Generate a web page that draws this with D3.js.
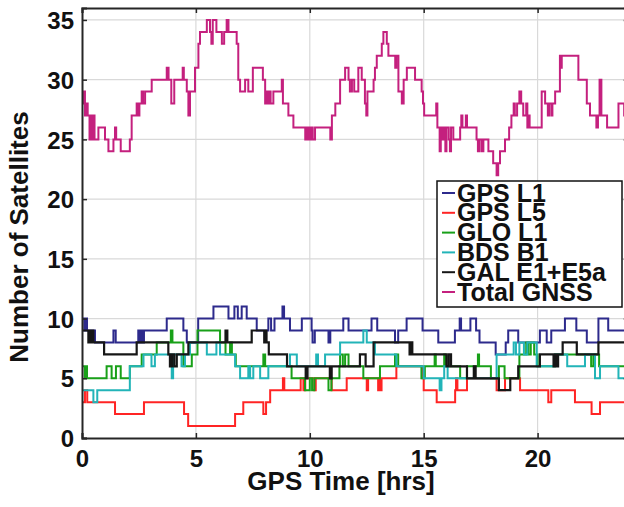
<!DOCTYPE html>
<html>
<head>
<meta charset="utf-8">
<script src="https://cdn.jsdelivr.net/npm/d3@7"></script>
<style>
  body { margin: 0; background: #fff; }
  svg text { font-family: "Liberation Sans", Arial, sans-serif; font-weight: bold; fill: #111; }
</style>
</head>
<body>
<div class="chart"></div>
<script>
// step series: [time (hrs), satellites] - value holds until the next change
const gpsL1 = [[0,10],[0.1,9],[0.15,10],[0.22,9],[0.57,8],[1.38,9],[1.48,8],[2.47,9],[2.52,8],[2.6,9],[2.65,8],[2.72,9],[3.72,10],[4.45,9],[4.6,8],[5.1,10],[5.77,11],[6.43,10],[6.69,11],[6.84,10],[7.01,11],[7.23,10],[7.67,9],[8.18,10],[8.3,9],[8.45,10],[8.8,11],[8.87,10],[9.13,9],[9.65,10],[10.08,9],[10.12,8],[10.22,9],[10.82,8],[10.9,9],[11.47,10],[11.7,9],[12.71,10],[12.96,9],[13.74,8],[13.88,9],[14.25,10],[14.95,9],[15.64,8],[16.37,9],[16.58,10],[16.64,9],[17.05,10],[17.3,9],[17.45,8],[18.16,7],[18.6,8],[18.71,9],[19.15,8],[20.1,9],[20.4,8],[20.6,9],[21.2,10],[21.7,9],[22.16,8],[22.67,10],[23.1,9]];

const gpsL5 = [[0,3],[0.13,4],[0.23,3],[1.45,2],[2.72,3],[4.48,2],[4.66,1],[6.72,2],[7.08,3],[7.96,2],[8.08,3],[8.26,4],[8.82,5],[8.88,4],[9.6,5],[9.72,4],[9.8,5],[10.2,4],[10.26,5],[10.96,4],[11.62,5],[12.5,4],[12.56,5],[13.0,4],[13.05,5],[13.1,4],[13.15,5],[13.8,6],[14.95,5],[15.0,4],[15.57,3],[16.38,4],[16.42,5],[16.48,4],[16.9,5],[18.2,4],[18.57,5],[19.23,4],[20.47,3],[20.6,4],[21.64,3],[22.37,2],[22.74,3]];

const gloL1 = [[0,6],[0.12,5],[0.18,6],[0.22,5],[1.08,6],[1.3,5],[1.49,6],[1.7,5],[2.1,6],[2.62,7],[3.28,8],[3.9,9],[3.97,8],[4.45,6],[4.82,7],[5.07,9],[6.06,8],[6.3,7],[6.5,8],[6.58,7],[6.75,6],[7.96,7],[8.04,6],[9.2,5],[9.79,4],[10.0,5],[10.1,4],[10.2,5],[10.82,4],[10.95,5],[11.3,6],[11.33,7],[11.45,6],[11.55,7],[11.7,6],[12.35,5],[13.08,6],[13.74,7],[13.88,6],[14.9,5],[15.05,6],[15.48,7],[15.53,6],[15.9,7],[15.95,6],[16.6,5],[16.9,6],[17.38,7],[17.43,6],[17.95,5],[18.3,6],[18.55,5],[19.2,7],[19.5,8],[19.6,7],[19.7,8],[19.85,7],[20.0,6],[20.76,7],[22.35,6],[22.45,7],[22.7,6]];

const bdsB1 = [[0,4],[0.5,3],[0.67,4],[2.1,6],[2.7,7],[3.05,6],[3.2,7],[3.94,5],[4.0,7],[4.37,6],[4.52,7],[4.74,8],[5.48,7],[5.9,8],[6.06,7],[6.72,6],[6.94,5],[7.3,6],[7.38,5],[7.52,6],[7.82,5],[8.18,6],[9.13,7],[9.43,6],[10.28,7],[10.36,6],[10.67,7],[11.33,8],[12.35,9],[12.5,8],[12.86,7],[13.8,6],[15.0,5],[15.7,4],[15.78,5],[15.9,6],[16.05,5],[18.2,7],[18.95,8],[19.05,7],[19.2,8],[19.4,7],[19.55,8],[19.96,6],[20.76,7],[21.3,6],[22.08,7],[22.52,5],[22.74,6],[23.55,5]];

const galE1E5a = [[0,9],[0.28,8],[0.32,9],[0.4,8],[0.45,9],[0.5,8],[0.97,7],[2.4,8],[3.79,7],[3.86,6],[3.95,7],[4.05,6],[4.16,7],[4.67,8],[6.3,9],[6.38,8],[7.45,9],[8.0,8],[8.05,9],[8.1,8],[8.2,7],[9.0,6],[9.82,5],[9.9,6],[10.88,5],[10.96,6],[12.2,7],[12.45,6],[12.8,8],[14.38,7],[14.45,8],[14.5,7],[16.0,6],[16.1,7],[16.2,6],[16.9,5],[17.2,6],[17.28,5],[18.3,4],[18.8,5],[19.15,6],[20.1,7],[20.7,6],[20.78,7],[20.85,6],[20.9,7],[21.1,8],[21.72,7],[22.67,8]];

const totalGnss = [[0,28],[0.09,29],[0.13,27],[0.2,28],[0.25,27],[0.33,25],[0.38,27],[0.43,25],[0.5,27],[0.55,25],[0.72,26],[1.01,25],[1.16,24],[1.38,25],[1.45,26],[1.5,25],[1.7,24],[2.1,25],[2.18,27],[2.4,28],[2.45,27],[2.52,28],[2.62,29],[2.68,28],[2.77,29],[3.06,30],[3.72,31],[3.8,30],[3.92,28],[4.05,30],[4.42,31],[4.47,30],[4.6,29],[4.67,27],[4.74,29],[4.96,31],[5.11,33],[5.18,34],[5.48,35],[5.62,34],[5.68,33],[5.74,35],[5.9,34],[6.14,33],[6.24,34],[6.35,35],[6.43,34],[6.79,33],[6.86,30],[6.94,29],[7.16,30],[7.3,29],[7.5,31],[7.94,30],[8.04,28],[8.1,29],[8.15,28],[8.22,29],[8.28,28],[8.4,29],[8.77,30],[8.82,28],[9.06,27],[9.28,26],[9.8,25],[9.85,26],[9.9,25],[9.95,26],[10.0,25],[10.08,26],[10.13,25],[10.23,26],[10.9,25],[10.97,27],[11.12,28],[11.33,30],[11.55,31],[11.7,30],[11.76,29],[11.85,30],[11.95,29],[12.13,31],[12.28,30],[12.42,28],[12.48,27],[12.53,29],[12.8,30],[12.86,31],[12.94,32],[13.16,33],[13.23,34],[13.38,33],[13.45,32],[13.75,31],[13.8,32],[13.89,29],[14.04,28],[14.12,30],[14.26,31],[14.62,30],[14.91,29],[14.97,28],[15.02,27],[15.55,28],[15.6,26],[15.7,24],[15.75,26],[15.82,25],[15.9,26],[15.95,24],[16.0,26],[16.1,25],[16.15,24],[16.2,26],[16.3,25],[16.6,26],[16.65,27],[16.7,26],[16.85,27],[16.9,26],[17.32,25],[17.38,24],[17.45,25],[17.55,24],[17.62,25],[17.84,24],[18.05,23],[18.2,22],[18.27,23],[18.35,24],[18.57,25],[18.75,26],[18.85,27],[18.95,28],[19.0,27],[19.1,28],[19.2,29],[19.28,28],[19.37,27],[19.5,28],[19.55,26],[19.6,27],[19.65,26],[20.18,29],[20.33,28],[20.45,27],[20.5,28],[20.6,27],[20.65,28],[20.77,29],[20.98,32],[21.02,31],[21.06,32],[21.79,30],[22.16,28],[22.3,27],[22.58,26],[22.65,27],[22.72,30],[22.8,27],[23.05,26],[23.55,28],[23.8,27]];

const seriesNames = ['GPS L1', 'GPS L5', 'GLO L1', 'BDS B1', 'GAL E1+E5a', 'Total GNSS'];
const seriesColors = ['#2d2a8c', '#ff2424', '#18a018', '#22b4b8', '#161616', '#c4207e'];
const seriesData = [gpsL1, gpsL5, gloL1, bdsB1, galE1E5a, totalGnss];

const xTicks = [0, 5, 10, 15, 20];
const yTicks = [0, 5, 10, 15, 20, 25, 30, 35];

const width = 624;
const height = 507;
const plotLeft = 82, plotTop = 8, plotBottom = 438;
const plotRight = 82 + 24 * 22.78;

const x = d3.scaleLinear().domain([0, 24]).range([plotLeft, plotRight]);
const y = d3.scaleLinear().domain([0, 36]).range([plotBottom, plotTop]);

const svg = d3.select('.chart').append('svg')
    .attr('width', width)
    .attr('height', height);

svg.append('defs').append('clipPath').attr('id', 'plot-clip')
  .append('rect')
    .attr('x', plotLeft).attr('y', plotTop)
    .attr('width', plotRight - plotLeft).attr('height', plotBottom - plotTop);

// grid
const grid = svg.append('g');
xTicks.filter(t => t > 0).forEach(t => {
  grid.append('line')
      .attr('x1', x(t)).attr('x2', x(t))
      .attr('y1', plotTop).attr('y2', plotBottom)
      .attr('stroke', '#d9d9d9').attr('stroke-width', 1.2);
});
yTicks.filter(t => t > 0).forEach(t => {
  grid.append('line')
      .attr('x1', plotLeft).attr('x2', plotRight)
      .attr('y1', y(t)).attr('y2', y(t))
      .attr('stroke', '#d9d9d9').attr('stroke-width', 1.2);
});

// series
const line = d3.line()
    .x(d => x(d[0]))
    .y(d => y(d[1]))
    .curve(d3.curveStepAfter);

const plot = svg.append('g').attr('clip-path', 'url(#plot-clip)');
seriesData.forEach((data, i) => {
  const pts = data.concat([[24, data[data.length - 1][1]]]);
  plot.append('path')
      .datum(pts)
      .attr('fill', 'none')
      .attr('stroke', seriesColors[i])
      .attr('stroke-width', i === 4 ? 2.2 : 2)
      .attr('d', line);
});

// axes frame (inward ticks, MATLAB style)
const xAxisB = d3.axisBottom(x).tickValues(xTicks).tickSize(-5).tickFormat(d => d).tickPadding(12);
const xAxisT = d3.axisTop(x).tickValues(xTicks).tickSize(-5).tickFormat('');
const yAxisL = d3.axisLeft(y).tickValues(yTicks).tickSize(-5).tickFormat(d => d).tickPadding(8);
const yAxisR = d3.axisRight(y).tickValues(yTicks).tickSize(-5).tickFormat('');

const axes = [
  svg.append('g').attr('transform', `translate(0,${plotBottom})`).call(xAxisB),
  svg.append('g').attr('transform', `translate(0,${plotTop})`).call(xAxisT),
  svg.append('g').attr('transform', `translate(${plotLeft},0)`).call(yAxisL),
  svg.append('g').attr('transform', `translate(${plotRight},0)`).call(yAxisR)
];
axes.forEach(a => {
  a.select('.domain').attr('stroke', '#262626').attr('stroke-width', 2);
  a.selectAll('.tick line').attr('stroke', '#262626').attr('stroke-width', 1.5);
  a.selectAll('.tick text')
      .style('font-size', '24px')
      .style('font-family', '"Liberation Sans", Arial, sans-serif')
      .style('font-weight', 'bold')
      .attr('fill', '#111');
});
axes[0].selectAll('.tick text').attr('dy', '0.71em');
axes[2].selectAll('.tick text').attr('dy', '0.36em');

// axis titles
svg.append('text')
    .attr('x', 341)
    .attr('y', 490)
    .attr('text-anchor', 'middle')
    .style('font-size', '26px')
    .text('GPS Time [hrs]');

svg.append('text')
    .attr('transform', 'translate(28,237) rotate(-90)')
    .attr('text-anchor', 'middle')
    .style('font-size', '26px')
    .text('Number of Satellites');

// legend (rows sit tight, as in the original figure)
const legend = svg.append('g');
legend.append('rect')
    .attr('x', 437).attr('y', 181)
    .attr('width', 185).attr('height', 126)
    .attr('fill', '#fff')
    .attr('stroke', '#111')
    .attr('stroke-width', 1.5);

seriesNames.forEach((name, i) => {
  const cy = 193 + i * 19.8;
  legend.append('line')
      .attr('x1', 442).attr('x2', 455)
      .attr('y1', cy).attr('y2', cy)
      .attr('stroke', seriesColors[i])
      .attr('stroke-width', 2);
  legend.append('text')
      .attr('x', 457)
      .attr('y', cy + 8.5)
      .style('font-size', '25px')
      .text(name);
});
</script>
</body>
</html>
